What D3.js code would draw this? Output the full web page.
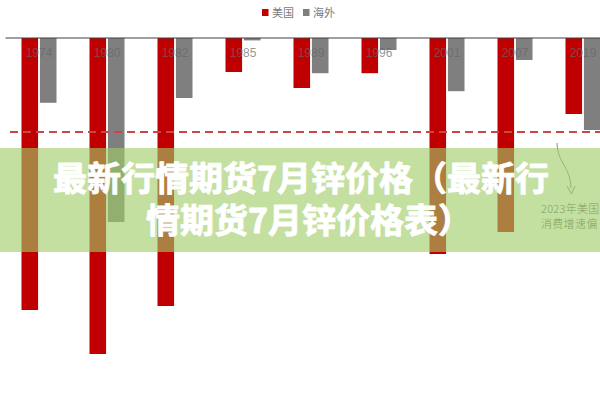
<!DOCTYPE html>
<html>
<head>
<meta charset="utf-8">
<script src="https://cdn.jsdelivr.net/npm/d3@7/dist/d3.min.js"></script>
<style>
  html, body { margin: 0; padding: 0; background: #fff; }
  svg { display: block; }
</style>
</head>
<body>
<svg id="chart" width="600" height="400"></svg>
<script>
// ---- data ----
const years = ["1974", "1980", "1982", "1985", "1989", "1996", "2001", "2007", "2019"];
const seriesNames = ["美国", "海外"];
const usValues = [-6.8, -7.9, -6.7, -0.85, -1.25, -0.88, -5.4, -4.85, -1.9];
const overseasValues = [-1.62, -4.6, -1.5, -0.06, -0.88, -0.3, -1.33, -0.55, -2.3];
const refLineValue = -2.35;
const titleLines = ["最新行情期货7月锌价格（最新行", "情期货7月锌价格表）"];
const noteLines = ["2023年美国", "消费增速偏"];

const colors = ["#c00000", "#7f7f7f"];

const svg = d3.select("#chart");
const W = 600, H = 400;

const x0 = d3.scaleBand().domain(years).range([5, 617]).paddingInner(0.485).paddingOuter(0.2425);
const x1 = d3.scaleBand().domain(seriesNames).range([0, x0.bandwidth()]).paddingInner(0.1);
const y = d3.scaleLinear().domain([-8, 0]).range([358, 38]);

const rows = years.map((yr, i) => ({ year: yr, vals: [usValues[i], overseasValues[i]] }));

// bars
const g = svg.append("g");
g.selectAll("g.grp").data(rows).join("g")
  .attr("class", "grp")
  .attr("transform", d => `translate(${x0(d.year)},0)`)
  .selectAll("rect").data(d => d.vals.map((v, k) => ({ k, v })))
  .join("rect")
  .attr("x", d => x1(seriesNames[d.k]))
  .attr("width", x1.bandwidth())
  .attr("y", y(0))
  .attr("height", d => y(d.v) - y(0))
  .attr("fill", d => colors[d.k]);

// axis line at zero
const axis = d3.axisTop(x0).tickSize(0).tickFormat("");
svg.append("g").attr("transform", `translate(0,${y(0)})`).call(axis)
  .call(s => s.select(".domain").attr("stroke", "#404040").attr("stroke-width", 1.2).attr("d", `M5.5,0H600`));

// year labels
svg.append("g").selectAll("text").data(years).join("text")
  .attr("x", d => x0(d) + x0.bandwidth() / 2)
  .attr("y", 57)
  .attr("text-anchor", "middle")
  .attr("font-family", "Liberation Sans, Arial, sans-serif")
  .attr("font-size", 12)
  .attr("fill", "#666666")
  .attr("fill-opacity", 0.7)
  .text(d => d);

// dashed reference line
svg.append("line")
  .attr("x1", 10).attr("x2", 600)
  .attr("y1", y(refLineValue)).attr("y2", y(refLineValue))
  .attr("stroke", "#c9474a").attr("stroke-width", 2)
  .attr("stroke-dasharray", "8,5");

// legend
const leg = svg.append("g").attr("font-family", "Noto Sans CJK SC, sans-serif").attr("font-size", 11);
const legX = [262, 303];
seriesNames.forEach((n, k) => {
  leg.append("rect").attr("x", legX[k]).attr("y", 9).attr("width", 6.5).attr("height", 7).attr("fill", colors[k]);
  leg.append("text").attr("x", legX[k] + 10).attr("y", 17).attr("fill", "#7a7a7a").text(n);
});

// annotation arrow + note
svg.append("path")
  .attr("d", "M557,143 C558,165 570,165 571,188")
  .attr("fill", "none").attr("stroke", "#8a8a8a").attr("stroke-width", 1);
svg.append("path")
  .attr("d", "M567,186 L571.5,194 L575,186")
  .attr("fill", "none").attr("stroke", "#8a8a8a").attr("stroke-width", 1);
const note = svg.append("text")
  .attr("font-family", "Noto Sans CJK SC, sans-serif").attr("font-weight", 300)
  .attr("font-size", 11).attr("fill", "#505050").attr("letter-spacing", 0.3);
note.selectAll("tspan").data(noteLines).join("tspan")
  .attr("x", 541).attr("y", (d, i) => 213 + i * 15)
  .text(d => d);

// green overlay band
svg.append("rect").attr("x", 0).attr("y", 148).attr("width", W).attr("height", 104)
  .attr("fill", "rgb(160,205,103)").attr("fill-opacity", 0.62);

// title (one text element, two lines)
const title = svg.append("text")
  .attr("text-anchor", "middle")
  .attr("font-family", "Noto Sans CJK SC, sans-serif")
  .attr("font-weight", 700).attr("font-size", 34)
  .attr("fill", "#ffffff")
  .attr("stroke", "#ffffff").attr("stroke-width", 0.9).attr("stroke-linejoin", "round");
title.selectAll("tspan").data(titleLines).join("tspan")
  .attr("x", (d, i) => i === 0 ? 301 : 309).attr("y", (d, i) => 191 + i * 42)
  .text(d => d);
</script>
</body>
</html>
